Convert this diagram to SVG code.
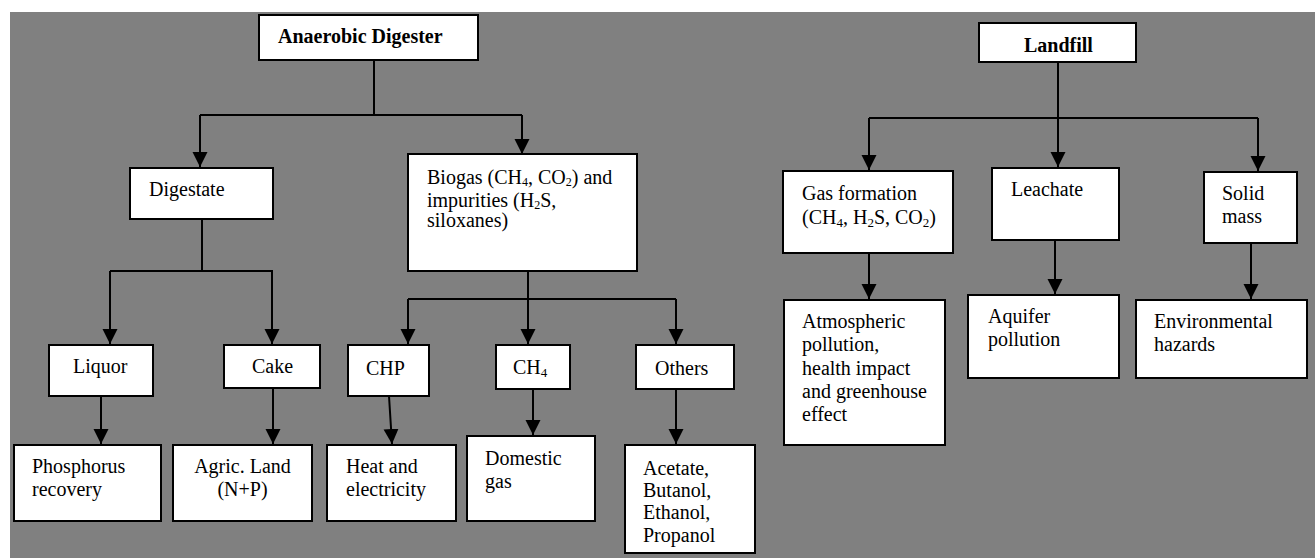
<svg xmlns="http://www.w3.org/2000/svg" width="1315" height="558" viewBox="0 0 1315 558">
<style>
.box{fill:#fff;stroke:#000;stroke-width:2}
.t{font-family:"Liberation Serif","Times New Roman",serif;font-size:20px;fill:#000}
.b{font-weight:bold}
.c{fill:none;stroke:#000;stroke-width:2}
.a{marker-end:url(#arr)}
</style>
<defs>
<marker id="arr" markerUnits="userSpaceOnUse" markerWidth="16" markerHeight="16" refX="15" refY="7.5" orient="auto">
<path d="M0,0 L15,7.5 L0,15 Z" fill="#000"/>
</marker>
</defs>
<rect x="0" y="0" width="1315" height="558" fill="#fff"/>
<rect x="10" y="12" width="1305" height="546" fill="#808080"/>

<g id="connectors">
<path class="c" d="M374,60 V115 M200,115 H522 M202,219 V271 M110,271 H273 M528,271 V299 M408,299 H676 M1058,62 V118 M869,118 H1258"/>
<path class="c a" d="M200,115 V167"/>
<path class="c a" d="M522,115 V154"/>
<path class="c a" d="M110,271 V344"/>
<path class="c a" d="M272,271 V344"/>
<path class="c a" d="M528,299 V344"/>
<path class="c a" d="M408,299 V344"/>
<path class="c a" d="M676,299 V344"/>
<path class="c a" d="M101,396 V444"/>
<path class="c a" d="M273,388 V444"/>
<path class="c a" d="M389,396 L392,444"/>
<path class="c a" d="M533,389 V435"/>
<path class="c a" d="M676,389 V444"/>
<path class="c a" d="M1058,118 V167"/>
<path class="c a" d="M869,118 V170"/>
<path class="c a" d="M1258,118 V171"/>
<path class="c a" d="M869,253 V299"/>
<path class="c a" d="M1055,240 V294"/>
<path class="c a" d="M1251,243 V299"/>
</g>

<g id="anaerobic-digester"><rect class="box" x="259" y="15" width="219" height="45"/><text class="t b" x="278" y="43">Anaerobic Digester</text></g>
<g id="digestate"><rect class="box" x="130" y="168" width="143" height="51"/><text class="t" x="149" y="196">Digestate</text></g>
<g id="biogas"><rect class="box" x="408" y="154" width="229" height="117"/>
<text class="t" x="427" y="184">Biogas (CH<tspan font-size="12" dy="2">4</tspan><tspan dy="-2">, CO</tspan><tspan font-size="12" dy="2">2</tspan><tspan dy="-2">) and</tspan></text>
<text class="t" x="427" y="207">impurities (H<tspan font-size="12" dy="2">2</tspan><tspan dy="-2">S,</tspan></text>
<text class="t" x="427" y="227">siloxanes)</text></g>
<g id="liquor"><rect class="box" x="49" y="345" width="104" height="51"/><text class="t" x="73" y="373">Liquor</text></g>
<g id="cake"><rect class="box" x="224" y="345" width="96" height="43"/><text class="t" x="252" y="373">Cake</text></g>
<g id="chp"><rect class="box" x="348" y="345" width="81" height="51"/><text class="t" x="366" y="375">CHP</text></g>
<g id="ch4"><rect class="box" x="496" y="345" width="74" height="44"/><text class="t" x="513" y="374">CH<tspan font-size="13" dy="3">4</tspan></text></g>
<g id="others"><rect class="box" x="636" y="345" width="98" height="44"/><text class="t" x="655" y="375">Others</text></g>
<g id="phosphorus"><rect class="box" x="14" y="445" width="147" height="76"/><text class="t" x="32" y="473">Phosphorus</text><text class="t" x="32" y="496">recovery</text></g>
<g id="agric"><rect class="box" x="173" y="445" width="139" height="76"/><text class="t" x="242.5" y="473" text-anchor="middle">Agric. Land</text><text class="t" x="242.5" y="496" text-anchor="middle">(N+P)</text></g>
<g id="heat"><rect class="box" x="327" y="445" width="129" height="76"/><text class="t" x="346" y="473">Heat and</text><text class="t" x="346" y="496">electricity</text></g>
<g id="domestic"><rect class="box" x="467" y="436" width="128" height="85"/><text class="t" x="485" y="465">Domestic</text><text class="t" x="485" y="488">gas</text></g>
<g id="acetate"><rect class="box" x="625" y="445" width="130" height="108"/><text class="t" x="643" y="475">Acetate,</text><text class="t" x="643" y="497">Butanol,</text><text class="t" x="643" y="519">Ethanol,</text><text class="t" x="643" y="542">Propanol</text></g>

<g id="landfill"><rect class="box" x="979" y="23" width="157" height="39"/><text class="t b" x="1024" y="52">Landfill</text></g>
<g id="gas-formation"><rect class="box" x="783" y="171" width="170" height="82"/>
<text class="t" x="802" y="200">Gas formation</text>
<text class="t" x="802" y="224">(CH<tspan font-size="13" dy="3">4</tspan><tspan dy="-3">, H</tspan><tspan font-size="13" dy="3">2</tspan><tspan dy="-3">S, CO</tspan><tspan font-size="13" dy="3">2</tspan><tspan dy="-3">)</tspan></text></g>
<g id="leachate"><rect class="box" x="992" y="168" width="127" height="72"/><text class="t" x="1011" y="196">Leachate</text></g>
<g id="solid-mass"><rect class="box" x="1204" y="172" width="93" height="71"/><text class="t" x="1222" y="200">Solid</text><text class="t" x="1222" y="223">mass</text></g>
<g id="atmospheric"><rect class="box" x="784" y="300" width="161" height="145"/><text class="t" x="802" y="328">Atmospheric</text><text class="t" x="802" y="351">pollution,</text><text class="t" x="802" y="375">health impact</text><text class="t" x="802" y="398">and greenhouse</text><text class="t" x="802" y="421">effect</text></g>
<g id="aquifer"><rect class="box" x="968" y="295" width="151" height="83"/><text class="t" x="988" y="323">Aquifer</text><text class="t" x="988" y="346">pollution</text></g>
<g id="environmental"><rect class="box" x="1136" y="300" width="171" height="78"/><text class="t" x="1154" y="328">Environmental</text><text class="t" x="1154" y="351">hazards</text></g>
</svg>
